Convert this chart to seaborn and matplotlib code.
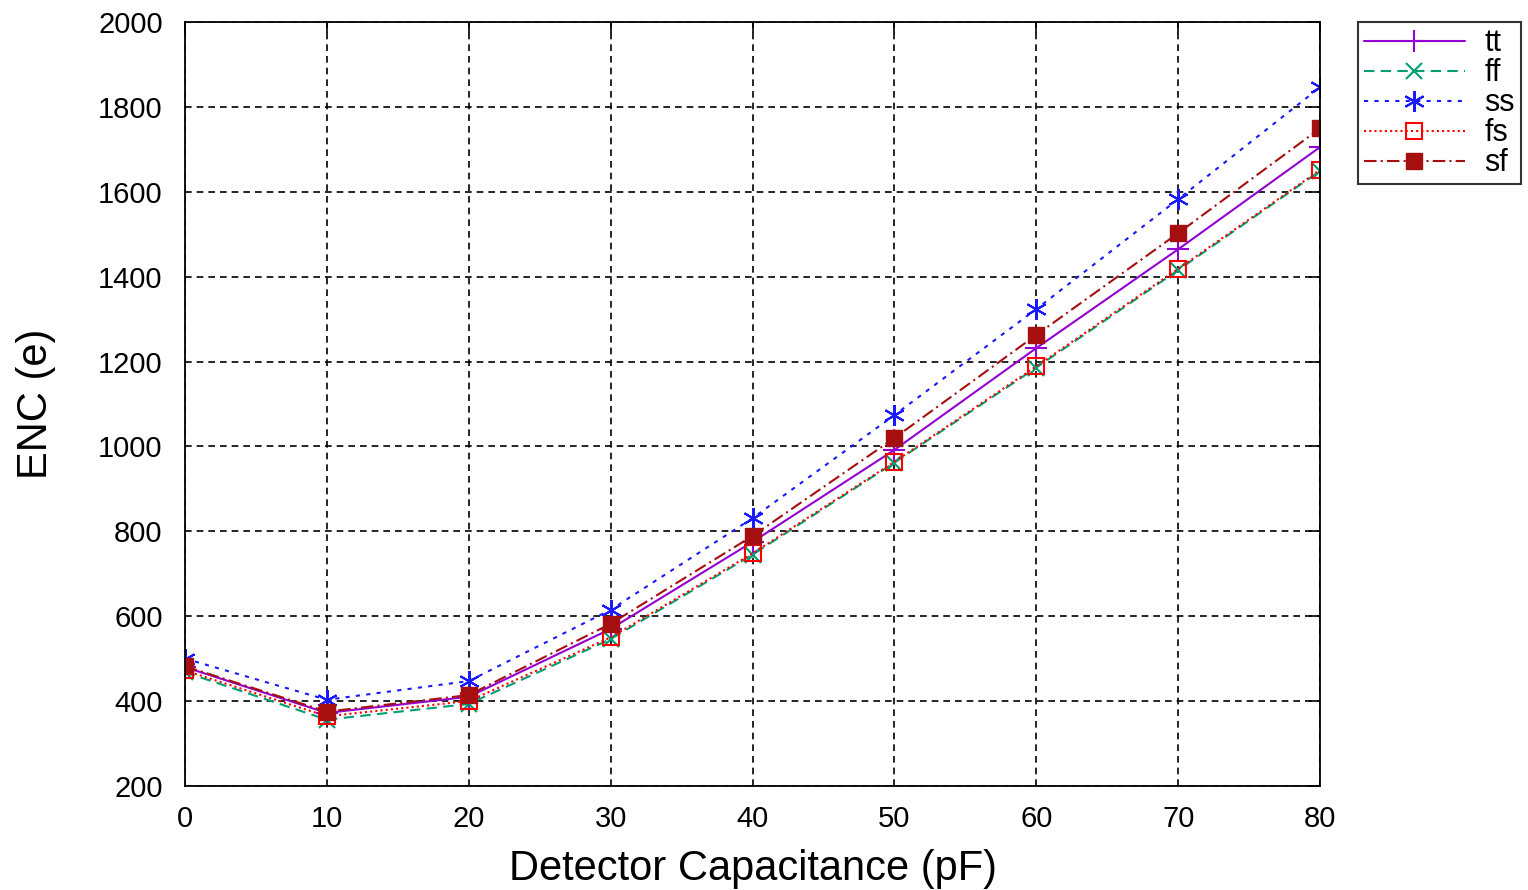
import pandas as pd
import numpy as np
import seaborn as sns
import matplotlib.pyplot as plt

# Valores
capacitance = [0, 10, 20, 30, 40, 50, 60, 70, 80]
enc_tt = [480, 372, 410, 570, 775, 992, 1232, 1465, 1706]
enc_ff = [468, 356, 393, 546, 745, 962, 1186, 1416, 1650]
enc_ss = [500, 403, 447, 615, 831, 1074, 1324, 1583, 1847]
enc_fs = [472, 364, 400, 550, 748, 964, 1189, 1419, 1652]
enc_sf = [482, 375, 414, 582, 789, 1020, 1263, 1503, 1750]

series = {"tt": enc_tt, "ff": enc_ff, "ss": enc_ss, "fs": enc_fs, "sf": enc_sf}

estilos = {
    "tt": dict(color="#9400D3", linestyle="-", marker="+", markersize=16, mew=1.5),
    "ff": dict(color="#009E73", linestyle=(0, (5, 3)), marker="x", markersize=11, mew=1.5),
    "ss": dict(color="#1a1aff", linestyle=(0, (2, 3)), marker=(6, 2, 0), markersize=15, mew=1.5),
    "fs": dict(color="#FF0000", linestyle=(0, (1, 1.5)), marker="s", markersize=11,
               mfc="none", mew=1.5),
    "sf": dict(color="#A50F0F", linestyle=(0, (6, 2, 1, 2)), marker="s", markersize=12, mew=1),
}

sns.set_style("white")
plt.rcParams['font.family'] = ['Liberation Sans', 'DejaVu Sans']
plt.rcParams['text.color'] = 'black'
plt.rcParams['axes.labelcolor'] = 'black'

fig = plt.figure(figsize=(15.28, 8.9), dpi=100)
ax = fig.add_axes([0.121, 0.117, 0.743, 0.858])

for nombre, valores in series.items():
    df = pd.DataFrame({"C": capacitance, "ENC": valores})
    st = estilos[nombre]
    sns.lineplot(data=df, x="C", y="ENC", ax=ax, label=nombre, color=st["color"],
                 linewidth=1.5, linestyle=st["linestyle"], marker=st["marker"],
                 markersize=st["markersize"], markeredgewidth=st["mew"],
                 markerfacecolor=st.get("mfc", st["color"]), markeredgecolor=st["color"])

ax.set_xlim(0, 80)
ax.set_ylim(200, 2000)
ax.set_xticks(capacitance)
ax.set_yticks(np.arange(200, 2001, 200))
ax.grid(True, color="black", linestyle=(0, (4, 3)), linewidth=1.2)
ax.tick_params(direction="in", length=8, width=1.2, top=True, right=True,
               labelsize=21, labelcolor="black", color="black")
ax.tick_params(axis="x", pad=14)
ax.tick_params(axis="y", pad=16)
for s in ax.spines.values():
    s.set_color("black")
    s.set_linewidth(1.3)

ax.set_xlabel("Detector Capacitance (pF)", fontsize=30, labelpad=11)
ax.set_ylabel("ENC (e)", fontsize=30, labelpad=30)

leg = ax.legend(loc="upper left", bbox_to_anchor=(1.033, 1.0), fontsize=22,
                frameon=True, fancybox=False, edgecolor="black", handlelength=3.3,
                borderpad=0.2, labelspacing=0.0, handletextpad=0.65, borderaxespad=0)
leg.get_frame().set_linewidth(1.5)

fig.savefig("out.png", dpi=100)
